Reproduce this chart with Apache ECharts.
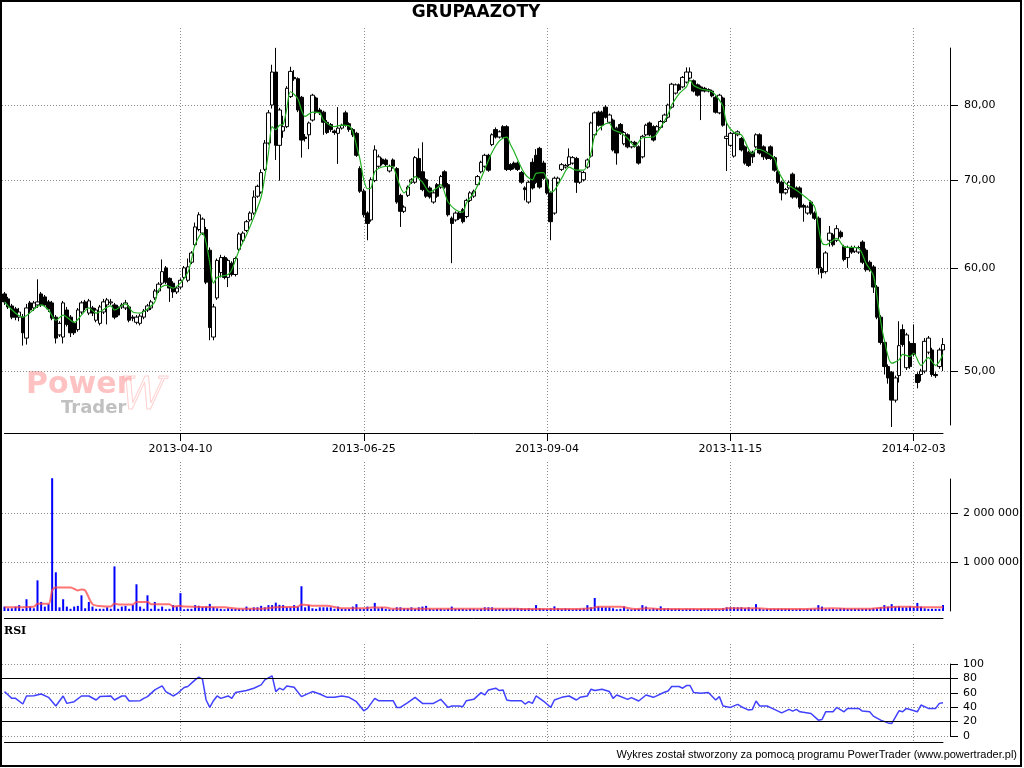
<!DOCTYPE html>
<html><head><meta charset="utf-8">
<script src="https://cdn.jsdelivr.net/npm/echarts@6/dist/echarts.min.js"></script>
<style>html,body{margin:0;padding:0;background:#fff}#c{width:1024px;height:768px}</style>
</head><body><div id="c"></div>
<script>
// ---------------- data ----------------
const tickIndex = [48, 98, 148, 198, 248];
const tickLabels = ['2013-04-10', '2013-06-25', '2013-09-04', '2013-11-15', '2014-02-03'];
const priceTicks = [50, 60, 70, 80];
const volumeTicks = [1000000, 2000000];

const open = [
57.3,56.8,56.1,55.8,55.0,55.0,53.0,56.4,55.9,56.2,
57.3,57.0,56.5,56.4,55.0,53.3,53.1,55.7,55.0,54.4,
53.8,55.5,56.5,55.4,55.9,54.7,54.4,55.5,56.2,56.4,
56.2,56.0,56.0,55.9,56.0,55.0,54.5,54.4,55.0,55.7,
55.9,56.9,57.6,58.4,60.0,58.9,58.4,57.5,58.0,59.0,
58.7,60.6,62.5,64.2,63.8,64.2,61.9,53.1,56.9,59.5,
61.1,59.0,60.5,59.3,62.0,63.0,64.1,65.3,66.1,68.1,
68.6,71.4,74.8,80.0,84.8,74.5,76.4,77.0,81.2,84.0,
83.8,81.1,75.6,75.9,77.9,81.0,79.3,79.0,77.6,77.3,
76.4,76.1,76.8,78.9,77.4,76.6,76.1,71.5,68.7,66.1,
65.3,70.0,71.8,72.7,72.6,71.2,72.6,71.5,68.2,66.3,
68.2,69.8,69.8,72.8,71.1,70.1,69.1,67.4,69.5,69.2,
71.1,69.5,65.5,65.3,66.1,66.5,65.7,67.6,68.1,69.5,
71.1,71.8,73.2,74.6,76.6,75.6,77.0,77.0,72.0,72.2,
72.2,71.0,69.1,67.4,72.3,73.2,74.1,72.2,70.1,68.5,
66.1,69.8,71.4,71.7,72.0,72.2,72.8,69.8,70.1,71.7,
73.1,75.9,79.0,79.0,79.7,77.6,77.9,76.8,77.3,74.7,
75.9,74.3,74.9,74.3,73.0,75.9,77.5,77.0,76.4,76.9,
77.7,78.3,79.7,81.7,82.9,82.6,83.3,83.9,83.5,82.9,
82.6,82.4,82.2,82.0,81.1,78.9,81.0,75.4,74.5,73.1,
75.9,75.4,74.3,73.6,73.6,74.3,75.9,74.3,73.6,74.3,
72.9,71.1,69.8,68.5,69.1,70.8,69.1,69.1,67.0,66.1,
67.4,66.1,65.5,59.9,59.6,63.0,63.6,63.0,63.9,62.3,
61.1,62.2,61.8,61.7,62.8,61.9,60.6,60.1,58.0,55.0,
52.6,50.4,49.9,47.5,49.6,53.8,50.3,52.5,52.5,49.7,
49.7,50.0,51.7,51.9,49.7,50.4,51.9
];
const close = [
56.5,56.0,55.0,55.0,55.5,53.5,55.9,55.7,56.4,56.5,
56.2,56.2,55.8,54.9,53.0,54.4,56.4,54.3,53.5,53.5,
55.7,56.4,55.9,56.6,55.4,55.7,56.0,56.5,56.7,56.5,
55.0,55.2,56.2,56.4,54.7,54.9,55.0,55.1,55.6,56.1,
56.5,57.6,58.3,59.6,58.5,57.9,57.5,57.9,58.7,60.0,
60.1,61.6,64.5,65.9,65.4,58.5,54.0,56.0,60.8,61.1,
59.0,60.8,59.3,61.0,63.7,63.8,65.1,66.1,68.0,69.3,
71.0,74.8,78.9,84.8,74.5,79.3,77.0,82.4,84.9,83.8,
79.3,75.2,75.4,77.5,81.4,79.0,78.9,77.6,76.2,76.6,
76.2,76.8,77.2,77.2,76.6,75.9,73.2,68.7,65.9,64.9,
70.1,73.9,73.0,72.1,72.0,71.8,71.8,67.4,66.3,66.8,
69.2,70.1,72.9,70.4,68.9,68.1,68.0,68.5,68.1,70.5,
69.2,65.9,64.9,66.1,65.5,65.1,67.6,68.5,68.7,70.5,
72.3,73.2,71.3,75.9,75.6,76.3,75.6,71.4,71.4,71.6,
71.4,69.8,68.9,69.8,69.1,69.8,69.2,70.3,68.5,65.1,
70.3,70.3,72.0,71.9,73.0,72.9,69.8,71.1,71.0,72.6,
77.5,78.9,77.2,77.2,78.3,78.6,73.9,73.5,76.1,76.2,
74.3,74.9,74.4,72.2,75.7,77.2,75.9,75.2,77.0,77.7,
78.6,80.0,83.0,82.9,82.2,84.0,84.8,84.8,82.0,81.4,
82.0,82.0,82.0,81.3,79.0,81.4,77.2,75.7,76.1,76.1,
76.3,73.9,72.2,71.9,73.0,75.9,73.5,73.0,72.8,72.8,
71.3,69.8,68.5,68.9,69.8,68.0,68.0,66.8,66.8,66.8,
66.1,65.5,60.0,59.5,61.6,63.8,62.5,64.3,63.4,60.9,
62.2,61.7,62.2,62.2,60.6,59.8,59.8,58.0,55.0,52.6,
50.4,49.4,47.5,49.4,52.3,52.4,53.3,50.4,51.5,49.0,
50.0,52.7,53.0,49.7,49.6,51.9,52.4
];
const low = [
56.2,55.8,54.8,54.7,54.6,52.3,52.4,55.3,55.6,55.9,
56.0,56.0,55.5,54.7,52.5,53.1,52.5,54.1,53.1,53.3,
53.6,55.3,55.7,55.2,55.1,54.5,54.2,55.3,54.3,56.2,
54.8,55.0,55.8,55.7,54.5,54.6,54.3,54.2,54.8,55.5,
55.7,56.7,57.4,58.2,58.3,56.5,56.9,57.3,57.8,58.8,
58.5,60.4,62.3,64.0,63.6,58.3,52.8,52.8,56.7,59.0,
58.8,58.0,59.1,59.1,61.8,62.8,63.9,65.1,65.9,67.9,
68.4,71.2,74.6,79.5,72.6,70.0,75.5,76.8,81.0,83.5,
79.0,72.9,75.0,74.0,77.7,78.8,78.6,75.9,76.0,76.3,
75.9,72.1,76.6,77.0,76.3,75.6,73.0,68.5,65.6,63.0,
65.1,69.8,71.6,71.9,71.8,71.0,71.5,67.2,64.5,66.1,
68.0,69.6,69.6,70.2,68.7,67.9,67.8,67.2,67.9,69.0,
69.0,65.7,60.5,65.1,65.3,64.9,65.5,67.4,67.9,69.3,
70.9,71.6,71.1,74.4,75.4,75.4,75.4,71.2,71.2,71.4,
71.2,69.6,67.6,67.2,68.9,69.6,69.0,70.1,68.3,63.0,
65.9,69.6,71.2,71.5,71.8,72.0,68.5,69.6,69.9,71.5,
72.9,75.7,77.0,76.5,78.1,77.4,73.7,72.0,75.9,74.5,
74.1,74.1,74.2,72.0,72.8,75.7,75.7,75.0,76.2,76.7,
77.5,78.1,79.5,81.5,82.0,82.4,83.1,83.7,81.8,81.2,
77.9,81.8,81.8,81.1,78.8,78.7,77.0,71.2,74.3,72.9,
75.7,73.7,72.0,71.7,72.2,74.1,73.3,72.6,72.6,72.6,
71.1,69.6,67.6,68.3,68.9,67.8,67.8,66.6,65.1,65.9,
65.9,65.3,59.3,58.9,59.4,62.3,62.3,62.8,63.2,60.7,
60.0,61.5,61.6,61.5,60.4,59.6,59.6,57.4,54.8,52.4,
49.7,48.9,45.3,47.3,49.0,52.2,50.1,50.2,51.3,48.5,
49.1,49.8,51.5,49.5,49.4,50.2,50.0
];
const high = [
57.5,57.0,56.3,56.0,55.9,55.3,56.3,56.6,56.6,58.8,
57.5,57.2,56.7,56.6,55.2,54.6,56.6,56.0,55.2,54.6,
55.9,56.6,56.7,56.8,56.1,55.9,56.2,56.8,56.9,56.8,
56.4,56.2,56.4,56.7,56.2,55.2,55.2,55.3,55.8,56.3,
56.7,57.8,58.5,60.9,60.2,59.0,58.6,58.1,58.9,60.2,
61.0,61.8,65.0,66.2,65.6,64.5,62.2,56.3,61.0,61.4,
61.3,61.0,60.7,61.2,63.9,64.0,65.3,66.3,68.8,69.5,
71.4,75.2,79.3,85.9,88.5,79.6,78.5,82.7,85.6,85.1,
84.0,81.3,76.0,77.7,81.6,81.2,79.6,79.2,77.9,77.5,
76.6,79.7,77.4,79.2,77.6,76.8,76.3,71.8,69.0,66.3,
70.4,74.5,73.3,72.9,72.8,72.0,72.8,71.7,68.4,67.0,
69.4,70.3,73.1,74.1,74.9,70.3,69.3,68.7,69.7,70.7,
71.3,69.7,65.7,66.3,66.3,66.7,67.8,68.7,68.9,70.7,
72.5,73.4,73.4,76.1,76.9,76.5,77.2,77.2,72.2,72.4,
72.4,71.2,69.3,70.0,72.8,74.0,74.3,72.5,70.3,68.7,
70.5,70.5,72.2,72.1,74.1,73.1,73.0,71.3,71.2,72.8,
77.7,79.1,79.2,79.2,80.0,78.8,78.1,77.0,77.5,76.4,
76.1,75.1,75.1,74.5,75.9,77.4,77.7,77.2,77.2,77.9,
78.8,80.2,83.2,83.1,83.1,84.2,85.5,85.5,83.7,83.1,
82.8,82.6,82.4,82.2,81.3,81.6,81.2,77.5,76.3,76.3,
76.5,75.6,74.5,73.8,73.8,76.1,76.1,74.5,73.8,74.5,
73.1,71.3,70.0,69.1,70.0,71.0,69.3,69.3,67.2,67.0,
67.6,66.3,65.7,60.1,61.8,64.6,63.8,64.7,64.1,62.5,
62.4,62.4,62.4,62.4,63.0,62.1,60.8,60.3,58.2,55.2,
52.8,50.6,50.0,49.6,54.6,54.3,53.5,52.7,54.3,49.9,
50.2,53.0,53.2,52.1,49.9,52.1,53.0
];
// volume in thousands of shares
const volumeK = [
90,55,55,90,120,45,240,90,55,625,
185,90,140,2710,790,75,240,90,45,90,
105,320,55,185,90,45,45,45,75,45,
910,45,90,105,45,125,545,90,45,320,
45,185,45,90,35,45,120,90,365,35,
45,45,120,105,80,90,145,80,55,45,
35,55,45,45,45,35,90,45,75,75,
105,75,120,120,170,125,120,75,75,120,
90,505,75,120,55,45,75,75,75,75,
45,90,45,45,45,90,140,45,40,90,
45,165,55,75,45,35,35,75,75,55,
55,75,45,75,90,105,45,35,45,45,
35,45,90,45,45,45,35,45,45,35,
45,75,75,75,45,45,45,45,55,55,
55,55,45,55,45,120,55,45,40,55,
95,55,45,55,45,35,45,45,55,120,
75,265,90,75,75,75,55,35,45,95,
35,35,45,45,120,90,35,55,45,95,
55,55,45,45,45,35,45,45,45,35,
45,45,45,35,45,35,55,75,75,75,
75,75,55,75,45,140,55,35,45,45,
45,45,45,45,45,35,35,45,35,45,
45,45,120,90,45,45,45,35,55,55,
45,45,45,45,45,45,45,55,55,75,
120,90,140,90,95,75,75,95,75,165,
90,55,45,45,45,45,120
];
// volume average (thousands) read at [bar index, value]
const volumeAvgK = [[0,75],[8,88],[9,150],[12,150],[13,420],[14,480],[18,480],[20,420],[21,440],[22,420],[24,140],[26,100],[29,90],[30,155],[31,135],[35,135],[36,185],[39,185],[40,140],[45,140],[46,90],[48,105],[49,90],[60,75],[64,45],[70,45],[74,75],[80,88],[81,135],[84,105],[88,105],[92,55],[98,55],[100,70],[104,70],[106,45],[115,45],[125,45],[140,45],[141,40],[155,40],[158,45],[160,55],[162,85],[168,85],[172,40],[175,55],[180,40],[196,40],[197,55],[202,55],[205,55],[210,40],[218,40],[222,50],[226,55],[230,45],[236,45],[240,70],[244,85],[247,85],[250,75],[256,75]];
// price moving average read at [bar index, value]
const priceAvg = [[0,56.5],[5,55.0],[10,56.2],[12,55.7],[14,54.7],[16,55.2],[19,54.5],[21,55.2],[23,55.9],[25,55.4],[29,56.1],[30,55.7],[33,56.3],[35,55.5],[37,55.4],[39,55.8],[41,56.5],[42,57.7],[44,58.2],[46,57.9],[48,58.4],[50,59.5],[51,60.9],[52,62.5],[54,63.8],[55,62.7],[56,60.5],[57,58.4],[58,59.0],[61,59.3],[62,59.8],[64,61.9],[66,63.6],[68,65.6],[70,68.0],[71,70.5],[72,73.5],[73,77.0],[74,76.6],[75,77.2],[76,77.3],[77,79.5],[78,81.9],[80,80.9],[81,79.3],[82,78.4],[84,79.0],[86,78.9],[87,77.9],[90,77.0],[92,77.2],[94,77.1],[95,76.3],[96,74.5],[97,72.6],[98,70.1],[99,69.0],[100,69.1],[101,71.1],[103,71.7],[105,71.8],[106,71.7],[108,69.2],[109,68.5],[111,69.9],[112,70.5],[114,69.8],[116,68.6],[118,69.1],[119,69.5],[121,67.4],[123,66.5],[125,66.2],[126,67.3],[128,68.5],[130,70.3],[131,71.4],[133,73.6],[135,75.1],[137,75.6],[138,74.6],[139,73.7],[140,72.6],[142,70.8],[144,70.1],[145,70.9],[147,71.0],[149,68.6],[150,68.8],[152,70.3],[154,71.7],[156,71.3],[158,71.3],[160,73.5],[161,75.8],[163,77.1],[165,77.5],[166,76.6],[168,76.2],[170,75.4],[172,74.4],[174,75.5],[177,75.6],[179,76.9],[181,78.7],[182,80.0],[184,81.6],[186,82.6],[187,83.6],[188,82.8],[190,82.3],[193,81.9],[195,80.7],[196,79.8],[197,77.5],[199,76.2],[201,75.9],[203,74.0],[204,73.4],[205,74.0],[207,73.8],[210,72.8],[211,71.3],[213,69.7],[215,69.1],[217,68.5],[219,67.8],[221,66.8],[222,64.5],[223,62.7],[224,62.5],[227,63.2],[229,62.3],[233,62.1],[235,60.5],[237,59.2],[238,57.0],[239,54.6],[240,52.8],[242,50.7],[244,51.0],[245,51.5],[247,51.3],[248,51.6],[250,50.5],[252,51.2],[254,50.5],[256,51.5]];
// RSI read at [bar index, value]
const rsi = [[0,61.7],[1,57],[2,52.3],[3,52.3],[5,44.4],[6,55.6],[8,56],[10,58.4],[12,53.7],[14,41.6],[16,55.6],[17,45.3],[19,47.7],[21,55.6],[23,55.6],[25,50],[26,54.7],[29,55.6],[30,50],[32,55.6],[33,55.6],[34,48.6],[37,49],[38,52.3],[39,54.7],[41,64],[43,69.6],[44,61.7],[46,55.6],[47,58.4],[49,67.3],[50,68.7],[52,78],[53,81.8],[54,79],[55,50],[56,39.7],[57,49],[58,55.6],[59,52.3],[61,55.6],[62,52.3],[63,60.3],[66,63.1],[68,66.4],[70,71],[71,78],[73,83.6],[74,61.7],[75,66.4],[76,64],[77,69.6],[79,67.8],[81,54.7],[84,61.7],[86,58.4],[88,53.7],[90,53.7],[92,55.6],[94,53.7],[96,47.7],[98,35],[99,38.3],[101,52.3],[102,49],[106,49],[107,39.7],[108,39.7],[110,46.3],[112,53.7],[114,45.3],[117,45.3],[119,50.9],[121,39.7],[122,41.6],[124,41.6],[125,40.7],[126,49],[128,50.9],[130,60.3],[131,57],[132,64],[134,66.4],[135,63.1],[136,64],[137,50],[138,49],[141,49],[142,44.4],[143,47.7],[144,45.3],[145,55.6],[147,48.6],[149,39.7],[150,50],[152,53.7],[154,55.6],[156,50],[157,53.7],[159,55.6],[160,65],[161,63.1],[163,65],[165,61.7],[166,52.3],[167,57],[170,50.9],[171,53.3],[173,48.6],[175,57],[177,53.7],[180,60.7],[181,62.6],[182,68.7],[184,68.7],[185,66.4],[186,70.1],[187,70.1],[188,60.3],[190,59.3],[192,60.3],[194,50],[195,54.7],[196,41.6],[198,39.7],[200,43.9],[201,40.7],[203,36],[204,36.9],[205,48.6],[206,41.6],[208,41.6],[210,36.9],[212,32.2],[214,36.9],[215,34.6],[216,36.9],[217,33.6],[220,31.3],[222,22],[223,22.9],[224,33.6],[226,33.6],[227,39.7],[229,33.6],[230,38.3],[233,38.3],[234,34.6],[236,33.6],[237,27.6],[239,22],[241,18.2],[242,17.3],[244,35],[245,33.6],[246,38.3],[247,36.9],[249,33.6],[250,43],[252,38.3],[254,38.3],[255,45.3],[256,46.3]];

// ---------------- layout ----------------
const N = open.length;
const categories = open.map((_, i) => String(i));
const FONT = '"DejaVu Sans", Verdana, sans-serif';
const plotL = 4.5, plotR = 1024 - 943;     // bar centres from x=4.5 to x=943
const axL = 2, axR = 1024 - 950;           // axis grids reach the right axis at x=950
const step = (943 - plotL) / (N - 1);

// price pane: visible log range for grid top=28..433
const pLo = Math.log(44.82), pHi = Math.log(91.66);
const pPerPx = (pHi - pLo) / 405;
// volume pane: grid 462..618, zero near y=611, ~49 px per million
const vPerPx = 1000000 / 49;
const vLo = -7 * vPerPx, vHi = 149 * vPerPx;

const dotted = { color: '#8a8a8a', width: 1, type: [1, 2] };
const isTick = (i) => tickIndex.indexOf(i) >= 0;
const fmtPrice = (v) => Math.exp(v).toFixed(2).replace('.', ',');
const fmtVol = (v) => String(Math.round(v)).replace(/\B(?=(\d{3})+(?!\d))/g, ' ');

const catAxis = (gi, withLabels) => ({
  type: 'category', gridIndex: gi, data: categories, boundaryGap: false,
  axisLine: { show: true, onZero: false, lineStyle: { color: '#000', width: 1 } },
  axisTick: { show: withLabels, interval: (i) => isTick(i), length: 8, lineStyle: { color: '#000' } },
  axisLabel: { show: withLabels, interval: (i) => isTick(i), margin: 11, color: '#000',
    fontFamily: FONT, fontSize: 11,
    formatter: (v, i) => { const k = tickIndex.indexOf(Number(v)); return k >= 0 ? tickLabels[k] : ''; } },
  splitLine: { show: true, interval: (i) => isTick(i), lineStyle: dotted }
});
const hiddenVal = (gi, min, max) => ({ type: 'value', gridIndex: gi, show: false, min, max,
  axisLine: { show: false, onZero: false }, splitLine: { show: false } });
const axisStyle = { show: true, onZero: false, lineStyle: { color: '#000', width: 1 } };

const grid = (left, right, top, height) => ({ left, right, top, height, containLabel: false, outerBoundsMode: 'none' });

const chart = echarts.init(document.getElementById('c'), null, { renderer: 'canvas' });
chart.setOption({
  animation: false,
  backgroundColor: '#fff',
  grid: [
    grid(plotL, plotR, 28, 405),   // 0 price
    grid(axL, axR, 48, 377),       // 1 price axis
    grid(plotL, plotR, 462, 156),  // 2 volume
    grid(axL, axR, 479, 132),      // 3 volume axis
    grid(plotL, plotR, 644, 98),   // 4 rsi frame
    grid(axL, axR, 664, 72)        // 5 rsi
  ],
  xAxis: [
    catAxis(0, true),
    hiddenVal(1, 0, 1),
    catAxis(2, false),
    hiddenVal(3, 0, 1),
    catAxis(4, false),
    hiddenVal(5, (axL - plotL) / step, (950 - plotL) / step)
  ],
  yAxis: [
    hiddenVal(0, pLo, pHi),
    { type: 'value', gridIndex: 1, position: 'right', min: pLo + 8 * pPerPx, max: pHi - 20 * pPerPx,
      axisLine: axisStyle,
      axisTick: { show: true, length: 8, customValues: priceTicks.map(Math.log), lineStyle: { color: '#000' } },
      axisLabel: { show: true, margin: 14, color: '#000', fontFamily: FONT, fontSize: 11,
        customValues: priceTicks.map(Math.log), formatter: fmtPrice },
      splitLine: { show: true, customValues: priceTicks.map(Math.log), lineStyle: dotted } },
    hiddenVal(2, vLo, vHi),
    { type: 'value', gridIndex: 3, position: 'right', min: vLo + 7 * vPerPx, max: vHi - 17 * vPerPx,
      axisLine: axisStyle,
      axisTick: { show: true, length: 8, customValues: volumeTicks, lineStyle: { color: '#000' } },
      axisLabel: { show: true, margin: 13, color: '#000', fontFamily: FONT, fontSize: 11,
        customValues: volumeTicks, formatter: fmtVol },
      splitLine: { show: true, customValues: volumeTicks, lineStyle: dotted } },
    hiddenVal(4, 0, 1),
    { type: 'value', gridIndex: 5, position: 'right', min: 0, max: 100, interval: 20,
      axisLine: axisStyle,
      axisTick: { show: true, length: 8, lineStyle: { color: '#000' } },
      axisLabel: { show: true, margin: 13, color: '#000', fontFamily: FONT, fontSize: 11 },
      splitLine: { show: true, lineStyle: dotted } }
  ],
  series: [
    { type: 'candlestick', name: 'GRUPAAZOTY', xAxisIndex: 0, yAxisIndex: 0, barWidth: 4, clip: false,
      data: open.map((o, i) => [Math.log(o), Math.log(close[i]), Math.log(low[i]), Math.log(high[i])]),
      itemStyle: { color: '#ffffff', color0: '#000000', borderColor: '#000000', borderColor0: '#000000', borderWidth: 1 } },
    { type: 'line', name: 'MA', xAxisIndex: 0, yAxisIndex: 0, symbol: 'none', smooth: 0.3,
      data: priceAvg.map(([i, v]) => [i, Math.log(v)]),
      lineStyle: { color: '#22b022', width: 1.2 }, z: 3 },
    { type: 'bar', name: 'Wolumen', xAxisIndex: 2, yAxisIndex: 2, barWidth: 2,
      data: volumeK.map(v => v * 1000), itemStyle: { color: '#0000ff' } },
    { type: 'line', name: 'Wolumen MA', xAxisIndex: 2, yAxisIndex: 2, symbol: 'none', smooth: 0.3,
      data: volumeAvgK.map(([i, v]) => [i, v * 1000]),
      lineStyle: { color: 'rgba(255,70,70,0.75)', width: 2 }, z: 3 },
    { type: 'line', name: 'RSI', xAxisIndex: 5, yAxisIndex: 5, symbol: 'none',
      data: rsi, lineStyle: { color: '#4040ff', width: 1.5 },
      markLine: { silent: true, symbol: 'none', label: { show: false },
        lineStyle: { color: '#000', width: 1, type: 'solid' },
        data: [{ yAxis: 20 }, { yAxis: 80 }] } }
  ],
  graphic: [
    { type: 'rect', shape: { x: 1, y: 1, width: 1020, height: 765 }, style: { fill: 'none', stroke: '#000', lineWidth: 2 }, silent: true, z: 100 },
    { type: 'text', x: 476, y: 13, style: { text: 'GRUPAAZOTY', font: 'bold 17px "DejaVu Sans"', fill: '#000', textAlign: 'center', textVerticalAlign: 'middle' } },
    { type: 'text', x: 4, y: 631, style: { text: 'RSI', font: 'bold 11px "DejaVu Serif"', fill: '#000', textAlign: 'left', textVerticalAlign: 'middle' } },
    { type: 'text', x: 1017, y: 755, style: { text: 'Wykres został stworzony za pomocą programu PowerTrader (www.powertrader.pl)', font: '11px "Liberation Sans"', fill: '#000', textAlign: 'right', textVerticalAlign: 'middle' } },
    { type: 'text', x: 26, y: 385, z: -1, style: { text: 'Power', font: 'bold 30px "DejaVu Sans"', fill: 'rgba(255,120,120,0.45)', textAlign: 'left', textVerticalAlign: 'middle' } },
    { type: 'text', x: 61, y: 408, z: -1, style: { text: 'Trader', font: 'bold 18px "DejaVu Sans"', fill: 'rgba(150,150,150,0.6)', textAlign: 'left', textVerticalAlign: 'middle' } },
    { type: 'text', x: 120, y: 398, z: -1, style: { text: 'W', font: 'italic 44px "DejaVu Serif"', fill: 'none', stroke: 'rgba(255,150,150,0.45)', lineWidth: 1, textAlign: 'left', textVerticalAlign: 'middle' } }
  ]
});
</script>
</body></html>
